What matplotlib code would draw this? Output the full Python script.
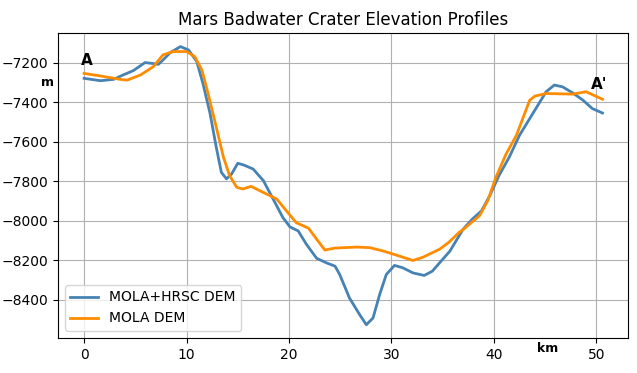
import matplotlib
matplotlib.use('Agg')
import matplotlib.pyplot as plt

# MOLA+HRSC DEM profile (km, m)
hrsc_km = [0, 1.6, 2.9, 3.8, 4.8, 5.95, 6.6, 7.25, 7.7, 8.4, 9.4, 10.2, 11.0, 11.6,
           12.3, 12.9, 13.4, 13.9, 14.4, 15.0, 15.6, 16.5, 17.5, 18.45, 19.4, 20.1,
           20.9, 21.7, 22.7, 23.65, 24.5, 24.95, 25.9, 26.9, 27.55, 28.2, 28.85,
           29.5, 30.3, 31.1, 32.1, 33.2, 34.0, 34.7, 35.7, 37.0, 37.9, 38.8, 39.6,
           40.5, 41.5, 42.5, 43.5, 44.3, 45.1, 45.9, 46.7, 47.7, 48.7, 49.6, 50.6]
hrsc_m = [-7278, -7290, -7283, -7261, -7239, -7198, -7202, -7207, -7185, -7148, -7117,
          -7134, -7193, -7304, -7457, -7627, -7755, -7788, -7763, -7709, -7718, -7738,
          -7797, -7890, -7984, -8032, -8052, -8120, -8191, -8214, -8231, -8273, -8392,
          -8477, -8528, -8494, -8375, -8273, -8227, -8239, -8265, -8278, -8256, -8214,
          -8155, -8043, -7992, -7950, -7873, -7771, -7678, -7567, -7482, -7414, -7346,
          -7312, -7321, -7352, -7389, -7431, -7454]

# MOLA DEM profile
mola_km = [0, 1.6, 3.5, 4.2, 5.5, 6.75, 7.7, 8.7, 10.0, 10.8, 11.5, 12.1, 12.9, 13.6,
           14.2, 14.9, 15.5, 16.3, 17.5, 18.8, 19.75, 20.7, 21.9, 22.7, 23.5, 24.5,
           26.6, 27.9, 29.2, 30.8, 32.1, 33.1, 34.7, 35.6, 36.6, 37.0, 38.6, 39.4,
           40.2, 41.2, 42.2, 43.0, 43.5, 44.0, 45.1, 47.7, 49.0, 50.6]
mola_m = [-7253, -7266, -7283, -7287, -7261, -7219, -7159, -7142, -7142, -7168, -7236,
          -7355, -7525, -7678, -7771, -7831, -7839, -7826, -7857, -7890, -7950, -8010,
          -8038, -8094, -8149, -8139, -8134, -8137, -8154, -8180, -8202, -8185, -8145,
          -8110, -8060, -8045, -7975, -7899, -7780, -7661, -7567, -7457, -7389, -7368,
          -7355, -7358, -7346, -7384]

fig = plt.figure(figsize=(6.37, 3.73), dpi=100)
ax = fig.add_axes([0.091, 0.094, 0.895, 0.8175])

ax.plot(hrsc_km, hrsc_m, color='steelblue', lw=2, label='MOLA+HRSC DEM')
ax.plot(mola_km, mola_m, color='darkorange', lw=2, label='MOLA DEM')

ax.set_xlim(-2.55, 53.1)
ax.set_ylim(-8595, -7048)
ax.set_title('Mars Badwater Crater Elevation Profiles', fontsize=12)
ax.grid(True)
ax.legend(loc='lower left')

ax.text(0.3, -7185, 'A', fontsize=11, fontweight='bold', ha='center', va='center')
ax.text(50.3, -7307, "A'", fontsize=11, fontweight='bold', ha='center', va='center')
fig.text(47 / 637, 1 - 83 / 373, 'm', fontsize=9, fontweight='bold', ha='center', va='center')
fig.text(548 / 637, 1 - 349 / 373, 'km', fontsize=9, fontweight='bold', ha='center', va='center')

fig.savefig('out.png', dpi=100)
